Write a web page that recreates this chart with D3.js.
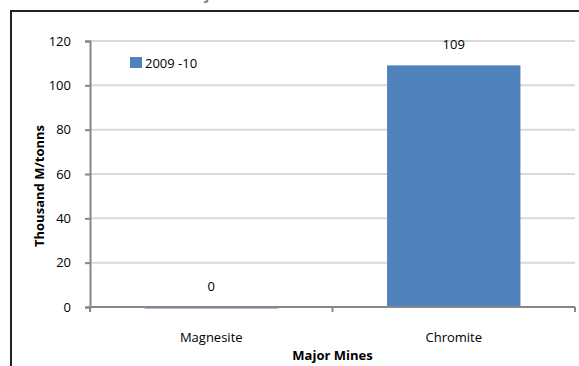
<!DOCTYPE html>
<html>
<head>
<meta charset="utf-8">
<script src="https://cdn.jsdelivr.net/npm/d3@7"></script>
<style>
  body { margin: 0; background: #fff; }
  svg { display: block; font-family: "Open Sans", "Noto Sans", sans-serif; }
</style>
</head>
<body>
<svg id="chart" width="579" height="366"></svg>
<script>
const categories = ["Magnesite", "Chromite"];
const values = [0, 109];
const seriesName = "2009 -10";
const yTicks = [0, 20, 40, 60, 80, 100, 120];

const svg = d3.select("#chart");
const margin = { top: 41, left: 90, right: 4, bottom: 59 };
const width = 579, height = 366;

// frame of the original slide, cut at the right and bottom
svg.append("rect")
  .attr("x", 11).attr("y", 11)
  .attr("width", 600).attr("height", 400)
  .attr("fill", "none").attr("stroke", "#222").attr("stroke-width", 2);

// title, mostly cut off above the picture
svg.append("text")
  .attr("x", 14).attr("y", 0)
  .attr("font-size", 15).attr("font-weight", "bold").attr("fill", "#888")
  .text("Mineral Production of Major Mines");

const x = d3.scaleBand()
  .domain(categories)
  .range([margin.left, width - margin.right])
  .paddingInner(0.45).paddingOuter(0.225);

const y = d3.scaleLinear()
  .domain([0, 120])
  .range([height - margin.bottom, margin.top]);

// gridlines
svg.append("g")
  .selectAll("line")
  .data(yTicks.filter(d => d > 0))
  .join("line")
  .attr("x1", margin.left).attr("x2", width - margin.right)
  .attr("y1", d => y(d)).attr("y2", d => y(d))
  .attr("stroke", "#d9d9d9").attr("stroke-width", 2);

// bars
svg.append("g")
  .selectAll("rect")
  .data(values)
  .join("rect")
  .attr("x", (d, i) => x(categories[i]))
  .attr("y", d => y(d))
  .attr("width", x.bandwidth())
  .attr("height", d => Math.max(1.5, y(0) - y(d)))
  .attr("fill", "#4f81bd");

// value labels
svg.append("g")
  .selectAll("text")
  .data(values)
  .join("text")
  .attr("x", (d, i) => x(categories[i]) + x.bandwidth() / 2)
  .attr("y", d => y(d) - 16)
  .attr("text-anchor", "middle")
  .attr("font-size", 13)
  .attr("fill", "#000")
  .text(d => d);

// y axis
const yAxis = svg.append("g")
  .attr("transform", `translate(${margin.left},0)`)
  .call(d3.axisLeft(y).tickValues(yTicks).tickSize(5).tickPadding(14));
yAxis.select(".domain").attr("stroke", "#868686").attr("stroke-width", 2);
yAxis.selectAll(".tick line").attr("stroke", "#868686").attr("stroke-width", 2);
yAxis.selectAll(".tick text").attr("font-size", 13).attr("fill", "#000")
  .attr("font-family", "Open Sans, sans-serif");

// x axis
const xAxis = svg.append("g")
  .attr("transform", `translate(0,${y(0)})`);
xAxis.append("line")
  .attr("x1", margin.left).attr("x2", width - margin.right)
  .attr("stroke", "#868686").attr("stroke-width", 2);
const xEdges = [margin.left, ...categories.slice(1).map(c => x(c) - x.step() * x.paddingInner() / 2), width - margin.right];
xAxis.selectAll(".edge")
  .data(xEdges)
  .join("line")
  .attr("x1", d => d).attr("x2", d => d)
  .attr("y1", 0).attr("y2", 5)
  .attr("stroke", "#868686").attr("stroke-width", 2);
xAxis.selectAll(".cat")
  .data(categories)
  .join("text")
  .attr("x", d => x(d) + x.bandwidth() / 2)
  .attr("y", 35)
  .attr("text-anchor", "middle")
  .attr("font-size", 13).attr("fill", "#000")
  .text(d => d);

// axis titles
svg.append("text")
  .attr("x", (margin.left + width - margin.right) / 2)
  .attr("y", 360)
  .attr("text-anchor", "middle")
  .attr("font-size", 13).attr("font-weight", "bold")
  .text("Major Mines");

svg.append("text")
  .attr("transform", `translate(44,${(y(0) + y(120)) / 2 + 12}) rotate(-90)`)
  .attr("text-anchor", "middle")
  .attr("font-size", 13).attr("font-weight", "bold")
  .text("Thousand M/tonns");

// legend
const legend = svg.append("g").attr("transform", "translate(130,57)");
legend.append("rect").attr("width", 12).attr("height", 11).attr("fill", "#4f81bd");
legend.append("text").attr("x", 15).attr("y", 11)
  .attr("font-size", 13).attr("fill", "#000")
  .text(seriesName);
</script>
</body>
</html>
